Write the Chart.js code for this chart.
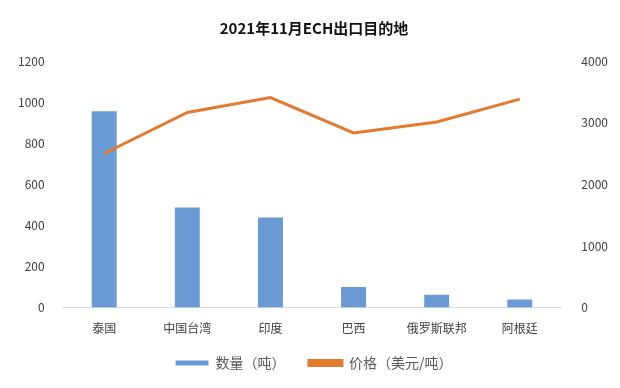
<!DOCTYPE html>
<html>
<head>
<meta charset="utf-8">
<script src="https://cdn.jsdelivr.net/npm/chart.js@4.4.0/dist/chart.umd.min.js"></script>
<style>
  html, body { margin: 0; padding: 0; background: #fff; }
  #wrap { width: 620px; height: 388px; }
</style>
</head>
<body>
<div id="wrap"><canvas id="echChart"></canvas></div>
<script>
const countries = ["泰国", "中国台湾", "印度", "巴西", "俄罗斯联邦", "阿根廷"];
const volume = [955, 487, 439, 100, 63, 39];      // 数量（吨）
const price = [2500, 3166, 3408, 2834, 3011, 3382]; // 价格（美元/吨）

const font = "'Noto Sans CJK SC', 'Noto Sans', sans-serif";
const ctx = document.querySelector("#echChart").getContext("2d");

const chart = new Chart(ctx, {
  data: {
    labels: countries,
    datasets: [
      {
        type: "line",
        label: "价格（美元/吨）",
        data: price,
        yAxisID: "y1",
        borderColor: "#e07b2f",
        backgroundColor: "#e07b2f",
        borderWidth: 3,
        pointRadius: 0,
        tension: 0,
        order: 1
      },
      {
        type: "bar",
        label: "数量（吨）   ",
        data: volume,
        yAxisID: "y",
        backgroundColor: "#6a9bd4",
        barPercentage: 0.3,
        categoryPercentage: 1,
        order: 2
      }
    ]
  },
  options: {
    responsive: true,
    maintainAspectRatio: false,
    animation: false,
    layout: { padding: { left: 8, right: 0, top: 6, bottom: 8 } },
    plugins: {
      title: {
        display: true,
        text: "2021年11月ECH出口目的地",
        color: "#111",
        font: { family: font, size: 15, weight: "bold" },
        padding: { top: 13, bottom: 24 }
      },
      legend: {
        position: "bottom",
        reverse: true,
        labels: {
          color: "#595959",
          font: { family: font, size: 14 },
          boxWidth: 33,
          boxHeight: 5,
          padding: 14
        }
      },
      tooltip: { enabled: false }
    },
    scales: {
      x: {
        grid: { display: false },
        border: { color: "#d9d9d9" },
        ticks: { color: "#404040", font: { family: font, size: 12 }, padding: 6 }
      },
      y: {
        position: "left",
        min: 0,
        max: 1200,
        grid: { display: false },
        border: { display: false },
        ticks: {
          stepSize: 200, color: "#404040", font: { family: font, size: 12 }, padding: 10,
          callback: v => String(v)
        }
      },
      y1: {
        position: "right",
        min: 0,
        max: 4000,
        grid: { display: false },
        border: { display: false },
        ticks: {
          stepSize: 1000, color: "#404040", font: { family: font, size: 12 }, padding: 12,
          callback: v => String(v)
        }
      }
    }
  }
});
</script>
</body>
</html>
